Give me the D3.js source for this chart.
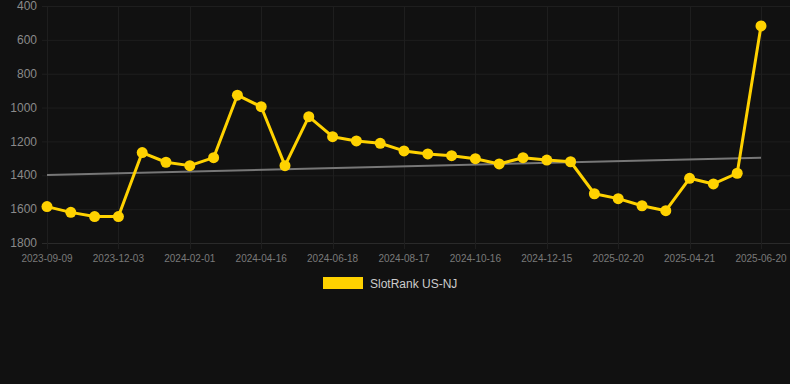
<!DOCTYPE html>
<html>
<head>
<meta charset="utf-8">
<script src="https://cdn.jsdelivr.net/npm/d3@7"></script>
<style>
  body { margin: 0; background: #111111; }
  svg { display: block; }
</style>
</head>
<body>
<svg id="chart" width="790" height="384"></svg>
<script>
//Dates on the x axis (only every third one is labelled)
var dates = ["2023-09-09","2023-10-07","2023-11-04","2023-12-03","2023-12-23","2024-01-12",
  "2024-02-01","2024-02-26","2024-03-22","2024-04-16","2024-05-07","2024-05-28",
  "2024-06-18","2024-07-08","2024-07-28","2024-08-17","2024-09-06","2024-09-26",
  "2024-10-16","2024-11-05","2024-11-25","2024-12-15","2025-01-06","2025-01-28",
  "2025-02-20","2025-03-12","2025-04-01","2025-04-21","2025-05-11","2025-05-31","2025-06-20"];

//Rank values
var ranks = [1585, 1619, 1644, 1644, 1266, 1323, 1343, 1296, 927, 995, 1343,
  1054, 1172, 1197, 1211, 1256, 1274, 1284, 1302, 1333, 1296, 1310, 1320,
  1509, 1538, 1580, 1609, 1418, 1451, 1388, 518];

//Trend line (start, end)
var trend = [1398, 1296];

var yTicks = [400, 600, 800, 1000, 1200, 1400, 1600, 1800];
var seriesName = "SlotRank US-NJ";

var svg = d3.select("#chart");

var x = d3.scalePoint().domain(dates).range([47, 761]);
var y = d3.scaleLinear().domain([400, 1800]).range([6, 243]);

//Grid
var grid = svg.append("g");
grid.selectAll(".hgrid")
  .data(yTicks)
  .enter().append("line")
  .attr("x1", 42).attr("x2", 790)
  .attr("y1", function(d){ return y(d) + 0.5; })
  .attr("y2", function(d){ return y(d) + 0.5; })
  .attr("stroke", function(d){ return d == 1800 ? "#2a2a2a" : "#1e1e1e"; })
  .attr("stroke-width", 1);

var labelled = dates.filter(function(d, i){ return i % 3 == 0; });
grid.selectAll(".vgrid")
  .data(labelled)
  .enter().append("line")
  .attr("x1", function(d){ return Math.round(x(d)) + 0.5; })
  .attr("x2", function(d){ return Math.round(x(d)) + 0.5; })
  .attr("y1", 6).attr("y2", 249)
  .attr("stroke", "#1e1e1e")
  .attr("stroke-width", 1);

//Y axis labels
svg.append("g").selectAll("text")
  .data(yTicks)
  .enter().append("text")
  .attr("x", 37)
  .attr("y", function(d){ return y(d); })
  .attr("dy", "0.35em")
  .attr("text-anchor", "end")
  .attr("font-family", "Arial, 'Liberation Sans', sans-serif")
  .attr("font-size", 12)
  .attr("fill", "#8a8a8a")
  .text(function(d){ return d; });

//X axis labels
svg.append("g").selectAll("text")
  .data(labelled)
  .enter().append("text")
  .attr("x", function(d){ return x(d); })
  .attr("y", 262)
  .attr("text-anchor", "middle")
  .attr("font-family", "Arial, 'Liberation Sans', sans-serif")
  .attr("font-size", 10)
  .attr("fill", "#7a7a7a")
  .text(function(d){ return d; });

//Trend line
svg.append("line")
  .attr("x1", x(dates[0])).attr("y1", y(trend[0]))
  .attr("x2", x(dates[dates.length - 1])).attr("y2", y(trend[1]))
  .attr("stroke", "#777777")
  .attr("stroke-width", 2);

//Series line
var data = dates.map(function(d, i){ return {date: d, value: ranks[i]}; });
var line = d3.line()
  .x(function(d){ return x(d.date); })
  .y(function(d){ return y(d.value); });

svg.append("path")
  .datum(data)
  .attr("d", line)
  .attr("fill", "none")
  .attr("stroke", "#FFD200")
  .attr("stroke-width", 3)
  .attr("stroke-linejoin", "round");

svg.append("g").selectAll("circle")
  .data(data)
  .enter().append("circle")
  .attr("cx", function(d){ return x(d.date); })
  .attr("cy", function(d){ return y(d.value); })
  .attr("r", 5.5)
  .attr("fill", "#FFD200");

//Legend
var legend = svg.append("g");
legend.append("rect")
  .attr("x", 323).attr("y", 277)
  .attr("width", 40).attr("height", 12)
  .attr("fill", "#FFD200");
legend.append("text")
  .attr("x", 370).attr("y", 288)
  .attr("font-family", "Arial, 'Liberation Sans', sans-serif")
  .attr("font-size", 12)
  .attr("fill", "#cccccc")
  .text(seriesName);
</script>
</body>
</html>
